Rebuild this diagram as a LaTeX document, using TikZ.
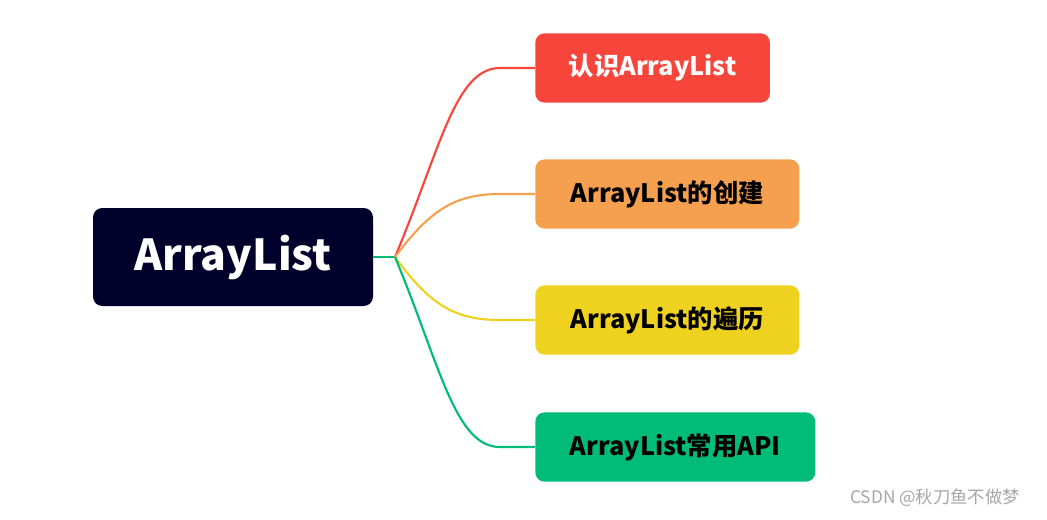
\documentclass[tikz,border=0pt]{standalone}
\usepackage{fontspec}
\setmainfont{Noto Sans CJK SC}
\newfontfamily\cjkb{Noto Sans CJK SC Bold}
\definecolor{rootc}{HTML}{00002A}
\definecolor{c1}{HTML}{F8453B}
\definecolor{c2}{HTML}{F5A04E}
\definecolor{c3}{HTML}{EFD21F}
\definecolor{c4}{HTML}{00BC78}
\tikzset{leaf/.style={rounded corners=7pt, minimum height=52pt, inner xsep=12pt, anchor=west, font=\fontsize{19}{22}\selectfont\bfseries},
link/.style={line width=1.6pt}}
\begin{document}
\begin{tikzpicture}[x=0.75pt,y=-0.75pt]
\useasboundingbox (0,0) rectangle (1047,519);
\node[fill=rootc, text=white, rounded corners=7pt, minimum width=210pt, minimum height=73.5pt, font=\fontsize{32}{36}\selectfont\bfseries] (root) at (233,257) {ArrayList};
\node[leaf, fill=c1, text=white, minimum width=176pt] (a) at (535,68) {认识ArrayList};
\node[leaf, fill=c2, minimum width=198pt] (b) at (535,194) {ArrayList的创建};
\node[leaf, fill=c3, minimum width=198pt] (c) at (535,320) {ArrayList的遍历};
\node[leaf, fill=c4, minimum width=210pt] (d) at (535,447) {ArrayList常用API};
\coordinate (hub) at (395,257);
\draw[link, c4] (root.east) -- (hub);
\draw[link, c1] (hub) .. controls (440,150) and (455,68) .. (500,68) -- (a.west);
\draw[link, c2] (hub) .. controls (430,210) and (455,194) .. (500,194) -- (b.west);
\draw[link, c3] (hub) .. controls (430,305) and (455,320) .. (500,320) -- (c.west);
\draw[link, c4] (hub) .. controls (440,365) and (455,447) .. (500,447) -- (d.west);
\node[text=gray!70, font=\fontsize{13}{15}\selectfont] (wm) at (935,498) {CSDN @秋刀鱼不做梦};
\end{tikzpicture}
\end{document}
